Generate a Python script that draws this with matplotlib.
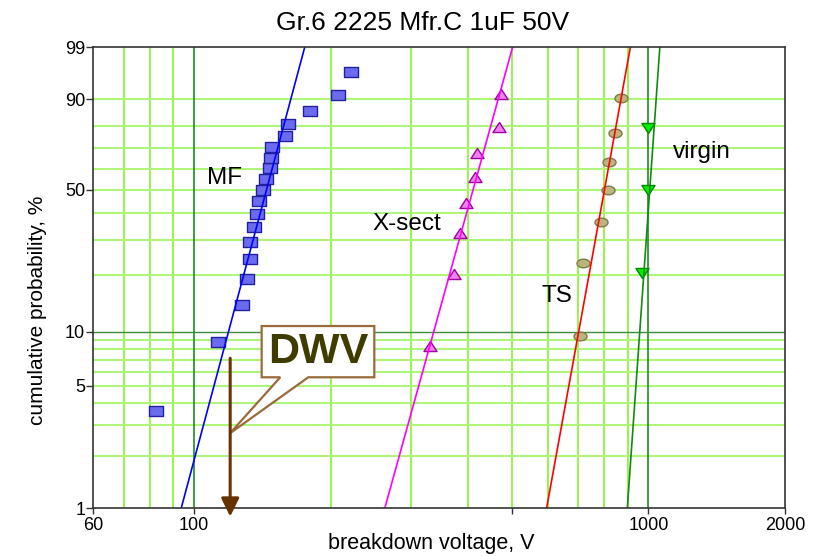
import numpy as np
import matplotlib
matplotlib.use("Agg")
import matplotlib.pyplot as plt
from matplotlib.path import Path
from matplotlib.patches import Polygon
import matplotlib.transforms as mtransforms
from matplotlib.ticker import NullLocator, FixedLocator, FixedFormatter

plt.rcParams['font.family'] = ['Liberation Sans', 'DejaVu Sans']

# ---------------- data ----------------
title = "Gr.6 2225 Mfr.C 1uF 50V"
x_label = "breakdown voltage, V"
y_label = "cumulative probability, %"

mf_voltage = [82.5, 112.6, 127.6, 130.6, 132.4, 132.6, 135.5, 137.7, 138.6, 141.6,
              143.6, 146.6, 147.5, 148.6, 158.7, 160.6, 179.6, 207.4, 221.1]
mf_percent = [3.61, 8.76, 13.92, 19.07, 24.23, 29.38, 34.54, 39.69, 44.85, 50.0,
              55.15, 60.31, 65.46, 70.62, 75.77, 80.93, 86.08, 91.24, 96.39]

xsect_voltage = [330, 374, 385, 397, 415, 420, 469, 474]
xsect_percent = [8.33, 20.24, 32.14, 44.05, 55.95, 67.86, 79.76, 91.67]

ts_voltage = [708, 718, 788, 815, 820, 845, 869]
ts_percent = [9.46, 22.97, 36.49, 50.0, 63.51, 77.03, 90.54]

virgin_voltage = [970, 1000, 1000]
virgin_percent = [20.59, 50.0, 79.41]

# fitted lines: voltage at 1 % and at 99 %
fit_percent = [1, 99]
mf_fit = [93.6, 175.1]
xsect_fit = [262.8, 502.4]
ts_fit = [597, 913]
virgin_fit = [899, 1060]

series_labels = ["MF", "X-sect", "TS", "virgin"]
dwv_voltage = 120
dwv_label = "DWV"

x_ticks = [60, 100, 500, 1000, 2000]
x_tick_labels = ["60", "100", "", "1000", "2000"]
y_ticks = [1, 5, 10, 50, 90, 99]
y_tick_labels = ["1", "5", "10", "50", "90", "99"]

x_grid_light = [70, 80, 90, 200, 300, 400, 500, 600, 700, 800, 900]
x_grid_dark = [100, 1000]
y_grid_light = [2, 3, 4, 5, 6, 7, 8, 9, 20, 30, 40, 50, 60, 70, 80, 90]
y_grid_dark = [10]

# ---------------- scale ----------------
def weib_fwd(p):
    p = np.clip(np.asarray(p, dtype=float) / 100.0, 1e-9, 1 - 1e-9)
    return np.log(-np.log(1 - p))

def weib_inv(w):
    w = np.asarray(w, dtype=float)
    return 100.0 * (1 - np.exp(-np.exp(w)))

# ---------------- markers ----------------
rect_marker = Path([(-6.5, -4.5), (6.5, -4.5), (6.5, 4.5), (-6.5, 4.5), (-6.5, -4.5)], closed=True)
tri_up = Path([(0, 5), (-6.5, -5), (6.5, -5), (0, 5)], closed=True)
tri_dn = Path([(0, -5), (-6.5, 5), (6.5, 5), (0, -5)], closed=True)
_t = np.linspace(0, 2 * np.pi, 41)
ell_marker = Path(np.column_stack([6.5 * np.cos(_t), 4.3 * np.sin(_t)]), closed=True)
ms = 9.4

fig = plt.figure(figsize=(8.15, 5.56), dpi=100)
ax = fig.add_axes([0.1147, 0.0858, 0.8485, 0.8291])
ax.set_xscale('log')
ax.set_yscale('function', functions=(weib_fwd, weib_inv))
ax.set_xlim(60, 2000)
ax.set_ylim(1, 99)

light_v = '#8ef53a'
light_h = '#aef57a'
dark_g = '#1e8c1e'
for v in x_grid_light:
    ax.axvline(v, color=light_v, lw=1.3, zorder=0.5)
for v in x_grid_dark:
    ax.axvline(v, color=dark_g, lw=1.2, zorder=0.6)
for p in y_grid_light:
    ax.axhline(p, color=light_h, lw=1.5, zorder=0.5)
for p in y_grid_dark:
    ax.axhline(p, color='#3c8c3c', lw=1.0, zorder=0.6)

# data points
ax.plot(mf_voltage, mf_percent, ls='none', marker=rect_marker, ms=ms,
        mfc='#6b6bef', mec='#2020a0', mew=1.0, zorder=3)
ax.plot(xsect_voltage, xsect_percent, ls='none', marker=tri_up, ms=ms,
        mfc='#ee82ee', mec='#a000a0', mew=1.0, zorder=3)
ax.plot(ts_voltage, ts_percent, ls='none', marker=ell_marker, ms=ms,
        mfc='#bbb57e', mec='#7f7a48', mew=1.0, zorder=3)
ax.plot(virgin_voltage, virgin_percent, ls='none', marker=tri_dn, ms=ms,
        mfc='#00ee00', mec='#008800', mew=1.0, zorder=3)

# fitted lines
ax.plot(mf_fit, fit_percent, color='#0000ff', lw=1.2, zorder=4)
ax.plot(xsect_fit, fit_percent, color='#ff00ff', lw=1.2, zorder=4)
ax.plot(ts_fit, fit_percent, color='#ff0000', lw=1.2, zorder=4)
ax.plot(virgin_fit, fit_percent, color='#108a10', lw=1.2, zorder=4)

# series labels
lab_pos = [(0.1902, 0.7035), (0.4526, 0.6037), (0.6696, 0.4482), (0.8804, 0.7592)]
for lab, (lx, ly) in zip(series_labels, lab_pos):
    ax.text(lx, ly, lab, transform=ax.transAxes, ha='center', va='baseline',
            fontsize=17.5, color='black', zorder=5)

# DWV callout bubble
bubble = Polygon([(0.2432, 0.3954), (0.4061, 0.3954), (0.4061, 0.2842), (0.3106, 0.2842),
                  (0.1974, 0.1627), (0.2701, 0.2842), (0.2432, 0.2842)],
                 closed=True, transform=ax.transAxes, facecolor='white',
                 edgecolor='#9a6a3a', lw=1.6, zorder=6)
ax.add_patch(bubble)
ax.text(0.3251, 0.338, dwv_label, transform=ax.transAxes, ha='center', va='center',
        fontsize=31, fontweight='bold', color='#3f3c00', zorder=7)

# DWV arrow
trans = mtransforms.blended_transform_factory(ax.transData, ax.transAxes)
ax.annotate('', xy=(dwv_voltage, -0.018), xytext=(dwv_voltage, 0.3254),
            xycoords=trans, textcoords=trans, annotation_clip=False,
            arrowprops=dict(arrowstyle='-|>,head_length=0.55,head_width=0.27',
                            mutation_scale=20, lw=2.2, color='#663300',
                            shrinkA=0, shrinkB=0), zorder=8)

# ticks
ax.xaxis.set_major_locator(FixedLocator(x_ticks))
ax.xaxis.set_major_formatter(FixedFormatter(x_tick_labels))
ax.xaxis.set_minor_locator(NullLocator())
ax.yaxis.set_major_locator(FixedLocator(y_ticks))
ax.yaxis.set_major_formatter(FixedFormatter(y_tick_labels))
ax.yaxis.set_minor_locator(NullLocator())
ax.tick_params(axis='x', direction='out', length=4, width=1, color='#333333',
               labelsize=13, pad=2)
ax.tick_params(axis='y', direction='out', length=5, width=1, color='#333333',
               labelsize=13, pad=1)
for s in ax.spines.values():
    s.set_color('#333333')
    s.set_linewidth(1.2)
    s.set_zorder(5)

fig.text(0.519, 0.946, title, ha='center', va='baseline', fontsize=19)
fig.text(0.5297, 0.0125, x_label, ha='center', va='baseline', fontsize=15.5)
fig.text(0.0454, 0.4424, y_label, ha='center', va='center', rotation=90, fontsize=15)

fig.savefig('out.png', dpi=100)
